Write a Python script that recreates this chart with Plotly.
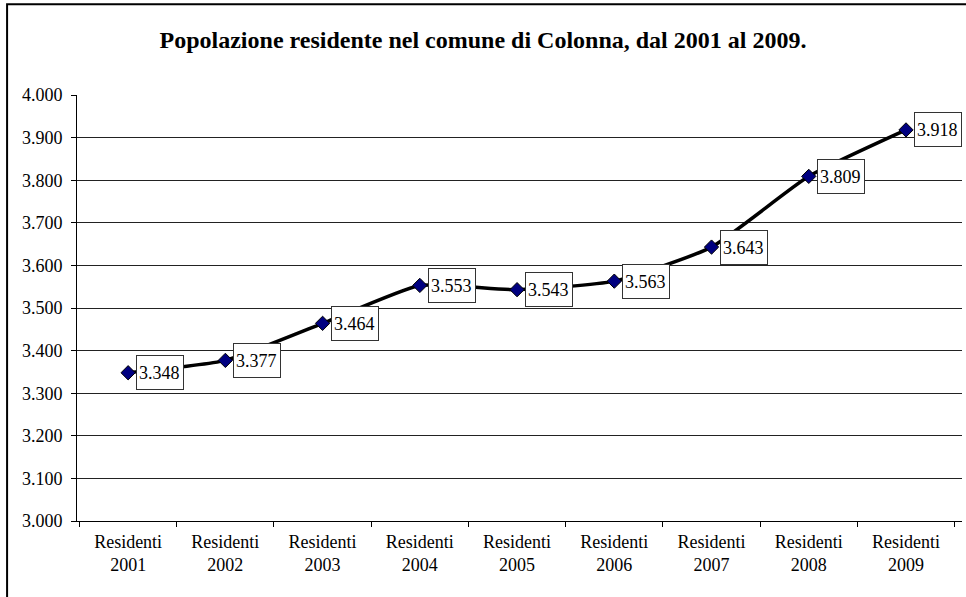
import plotly.graph_objects as go

categories = ["Residenti<br>2001", "Residenti<br>2002", "Residenti<br>2003", "Residenti<br>2004",
              "Residenti<br>2005", "Residenti<br>2006", "Residenti<br>2007", "Residenti<br>2008",
              "Residenti<br>2009"]
values = [3348, 3377, 3464, 3553, 3543, 3563, 3643, 3809, 3918]
y_ticks = [3000, 3100, 3200, 3300, 3400, 3500, 3600, 3700, 3800, 3900, 4000]
title_text = "Popolazione residente nel comune di Colonna, dal 2001 al 2009."

FONT = "Liberation Serif"

def fmt(v):
    return f"{v:,}".replace(",", ".")

fig = go.Figure()
fig.add_trace(go.Scatter(
    x=categories, y=values, mode="lines+markers",
    line=dict(color="black", width=3.5, shape="spline", smoothing=0.5),
    marker=dict(symbol="diamond", size=11, color="#000080",
                line=dict(color="black", width=1)),
    hoverinfo="skip", showlegend=False,
))

for c, v in zip(categories, values):
    fig.add_annotation(
        x=c, y=v, xref="x", yref="y", text=fmt(v), showarrow=False,
        xanchor="left", yanchor="middle", xshift=8, align="left",
        width=42, height=29,
        font=dict(family=FONT, size=18, color="black"),
        bgcolor="white", bordercolor="#333333", borderwidth=1, borderpad=2,
    )

fig.add_shape(type="rect", xref="paper", yref="paper",
              x0=-0.079, x1=1.2, y0=-0.5, y1=1.213,
              line=dict(color="black", width=2), layer="below")

fig.update_layout(
    width=966, height=597,
    margin=dict(l=77, r=4, t=95, b=76),
    paper_bgcolor="white", plot_bgcolor="white",
    separators=",.",
    font=dict(family=FONT, size=18, color="black"),
    title=dict(text="<b>" + title_text + "</b>", x=0.5, xanchor="center",
               y=0.933, yanchor="middle",
               font=dict(family=FONT, size=24, color="black")),
    xaxis=dict(
        type="category", showgrid=False, showline=True, linecolor="black", linewidth=1,
        ticks="outside", tickson="boundaries", ticklen=5, tickcolor="black",
        ticklabelstandoff=4,
        tickfont=dict(family=FONT, size=18), fixedrange=True,
    ),
    yaxis=dict(
        range=[3000, 4000], tickvals=y_ticks, tickformat=",.0f",
        showgrid=True, gridcolor="#222222", gridwidth=1,
        showline=True, linecolor="black", linewidth=1,
        ticks="outside", ticklen=5, tickcolor="black",
        ticklabelstandoff=5,
        tickfont=dict(family=FONT, size=18), zeroline=False, fixedrange=True,
    ),
)

fig.write_html("out.html", config={"displayModeBar": False},
               post_script="document.body.style.margin='0';document.body.style.overflow='hidden';")
